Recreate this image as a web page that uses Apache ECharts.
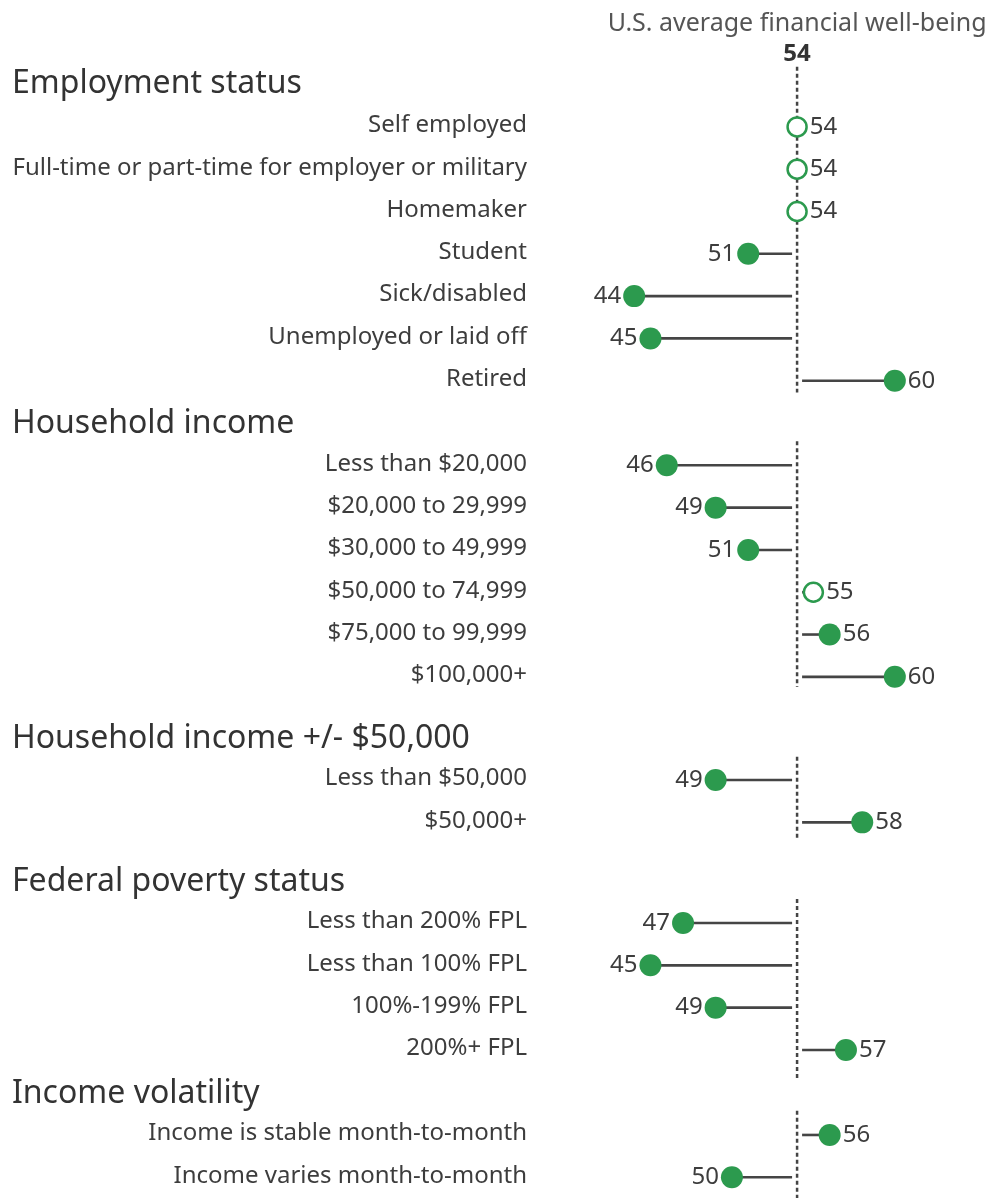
<!DOCTYPE html>
<html><head><meta charset="utf-8">
<script src="https://cdn.jsdelivr.net/npm/echarts@6/dist/echarts.min.js"></script>
<style>html,body{margin:0;padding:0;background:#fff}#c{width:991px;height:1198px}</style>
</head><body><div id="c"></div>
<script>
const average = 54;
const sectionTitles = ["Employment status","Household income","Household income +/- $50,000","Federal poverty status","Income volatility"];
const employmentLabels = ["Self employed","Full-time or part-time for employer or military","Homemaker","Student","Sick/disabled","Unemployed or laid off","Retired"];
const employmentValues = [54,54,54,51,44,45,60];
const employmentHollow = [true,true,true,false,false,false,false];
const incomeLabels = ["Less than $20,000","$20,000 to 29,999","$30,000 to 49,999","$50,000 to 74,999","$75,000 to 99,999","$100,000+"];
const incomeValues = [46,49,51,55,56,60];
const incomeHollow = [false,false,false,true,false,false];
const income50Labels = ["Less than $50,000","$50,000+"];
const income50Values = [49,58];
const income50Hollow = [false,false];
const povertyLabels = ["Less than 200% FPL","Less than 100% FPL","100%-199% FPL","200%+ FPL"];
const povertyValues = [47,45,49,57];
const povertyHollow = [false,false,false,false];
const volatilityLabels = ["Income is stable month-to-month","Income varies month-to-month"];
const volatilityValues = [56,50];
const volatilityHollow = [false,false];
const titleText = "U.S. average financial well-being";

const sectionData = [
  [employmentLabels, employmentValues, employmentHollow],
  [incomeLabels, incomeValues, incomeHollow],
  [income50Labels, income50Values, income50Hollow],
  [povertyLabels, povertyValues, povertyHollow],
  [volatilityLabels, volatilityValues, volatilityHollow]
];

// layout (row units)
const sectionGap = [0, 2.0, 2.44, 2.38, 2.01];
const headerLift = [1.02, 0.97, 0.97, 0.97, 0.97];
const refTop = [-1.42, -0.57, -0.55, -0.57, -0.57];
const refBottom = [0.28, 0.24, 0.4, 0.68, 0.6];

const FONT = 'Noto Sans';
const GREEN = '#2c9a4e';
const TXT = '#3d3d3d';

const rows = [], headers = [], refs = [];
let u = 0;
sectionData.forEach((sd, s) => {
  u = s === 0 ? 0 : u + sectionGap[s];
  headers.push([average, u - headerLift[s], sectionTitles[s]]);
  const first = u;
  sd[0].forEach((lab, i) => {
    if (i > 0) u += 1;
    rows.push({ label: lab, value: sd[1][i], hollow: sd[2][i], u: u });
  });
  refs.push([average, first + refTop[s], u + refBottom[s]]);
});

const chart = echarts.init(document.getElementById('c'), null, { renderer: 'canvas' });

chart.setOption({
  animation: false,
  grid: { left: 569, right: 31, top: 0, bottom: 0 },
  xAxis: { type: 'value', min: 40, max: 64, show: false },
  yAxis: { type: 'value', min: -3, max: 25.32, inverse: true, show: false },
  series: [
    {
      type: 'custom', clip: false, silent: true,
      data: refs,
      renderItem: (params, api) => {
        const a = api.coord([api.value(0), api.value(1)]);
        const b = api.coord([api.value(0), api.value(2)]);
        return { type: 'line', shape: { x1: a[0], y1: a[1], x2: b[0], y2: b[1] },
          style: { stroke: '#444', lineWidth: 2.5, lineDash: [4, 3] } };
      }
    },
    {
      type: 'custom', clip: false, silent: true,
      data: rows.map(r => [r.value, r.u]),
      renderItem: (params, api) => {
        const v = api.value(0);
        if (v === average) return;
        const p = api.coord([v, api.value(1)]);
        const c = api.coord([average, api.value(1)]);
        const x1 = v < average ? p[0] : c[0] + 5;
        const x2 = v < average ? c[0] - 5 : p[0];
        return { type: 'line', shape: { x1: x1, y1: p[1], x2: x2, y2: p[1] },
          style: { stroke: '#454545', lineWidth: 2.6 } };
      }
    },
    {
      type: 'scatter', silent: true, z: 3,
      data: rows.map(r => ({
        value: [r.value, r.u],
        symbolSize: r.hollow ? 19 : 22,
        itemStyle: r.hollow ? { color: '#fff', borderColor: GREEN, borderWidth: 2.5, opacity: 1 } : { color: GREEN, opacity: 1 },
        label: { position: r.value < average ? 'left' : 'right' }
      })),
      label: { show: true, distance: 2, formatter: p => p.value[0], fontFamily: FONT, fontSize: 24, color: TXT }
    },
    {
      type: 'custom', clip: false, silent: true,
      data: rows.map(r => [40, r.u]),
      renderItem: (params, api) => {
        const p = api.coord([api.value(0), api.value(1)]);
        return { type: 'text', style: { x: p[0] - 42, y: p[1] - 1.5, text: rows[params.dataIndex].label,
          align: 'right', verticalAlign: 'middle', fontFamily: FONT, fontSize: 24, fill: TXT } };
      }
    },
    {
      type: 'custom', clip: false, silent: true,
      data: headers.map(h => [h[0], h[1]]),
      renderItem: (params, api) => {
        const p = api.coord([api.value(0), api.value(1)]);
        return { type: 'text', style: { x: 12, y: p[1], text: headers[params.dataIndex][2],
          align: 'left', verticalAlign: 'middle', fontFamily: FONT, fontSize: 32, fill: '#333' } };
      }
    },
    {
      type: 'custom', clip: false, silent: true,
      data: [[average, -2.43, -1.73]],
      renderItem: (params, api) => {
        const a = api.coord([api.value(0), api.value(1)]);
        const b = api.coord([api.value(0), api.value(2)]);
        return { type: 'group', children: [
          { type: 'text', style: { x: a[0], y: a[1], text: titleText, align: 'center', verticalAlign: 'middle', fontFamily: FONT, fontSize: 25, fill: '#555' } },
          { type: 'text', style: { x: b[0], y: b[1], text: String(average), align: 'center', verticalAlign: 'middle', fontFamily: FONT, fontSize: 24, fontWeight: 'bold', fill: '#333' } }
        ] };
      }
    }
  ]
});
</script>
</body></html>
